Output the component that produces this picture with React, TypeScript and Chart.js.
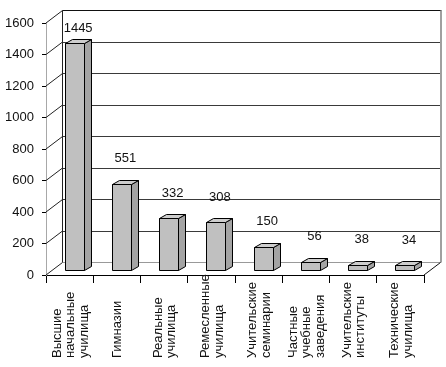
import React, { useEffect, useRef } from 'react';
import { Chart, registerables } from 'chart.js';

Chart.register(...registerables);

const categories: string[][] = [
  ['Высшие', 'начальные', 'училища'],
  ['Гимназии'],
  ['Реальные', 'училища'],
  ['Ремесленные', 'училища'],
  ['Учительские', 'семинарии'],
  ['Частные', 'учебные', 'заведения'],
  ['Учительские', 'институты'],
  ['Технические', 'училища'],
];
const values = [1445, 551, 332, 308, 150, 56, 38, 34];
const yMin = 0;
const yMax = 1600;
const yStep = 200;

const FONT_FAMILY = '"Liberation Sans", Arial, sans-serif';
const DX = 16.5; // wall depth (x)
const DY = -12.5; // wall depth (y)
const FDX = 5; // bar front face offset
const FDY = -3.8;
const SDX = 7; // bar depth
const SDY = -4;

const crisp = (v: number) => Math.round(v - 0.5) + 0.5;

const excel3d = {
  id: 'excel3d',
  beforeDatasetsDraw(chart: any) {
    const { ctx, scales } = chart;
    const x = scales.x;
    const y = scales.y;
    const l = x.left;
    const r = x.right;
    const y0 = y.getPixelForValue(yMin);
    const yT = y.getPixelForValue(yMax);
    const line = (x1: number, y1: number, x2: number, y2: number) => {
      ctx.beginPath();
      ctx.moveTo(x1, y1);
      ctx.lineTo(x2, y2);
      ctx.stroke();
    };
    ctx.save();
    ctx.lineWidth = 1;
    for (let v = yMin; v <= yMax; v += yStep) {
      const py = y.getPixelForValue(v);
      ctx.strokeStyle = '#222';
      line(l, py, l + DX, py + DY);
      if (v > yMin && v < yMax) {
        ctx.strokeStyle = '#3a3a3a';
        const gy = crisp(py + DY);
        line(crisp(l + DX), gy, r + DX, gy);
      }
    }
    ctx.strokeStyle = '#999';
    line(crisp(l + DX), crisp(y0 + DY), r + DX, crisp(y0 + DY));
    ctx.strokeStyle = '#111';
    line(crisp(l + DX), crisp(yT + DY), r + DX + 1, crisp(yT + DY));
    ctx.strokeStyle = '#222';
    line(crisp(l + DX), crisp(yT + DY), crisp(l + DX), crisp(y0 + DY));
    ctx.strokeStyle = '#a0a0a0';
    ctx.lineWidth = 2;
    line(Math.round(r + DX), crisp(yT + DY), Math.round(r + DX), crisp(y0 + DY));
    ctx.lineWidth = 1;
    ctx.strokeStyle = '#111';
    line(r, y0, r + DX, y0 + DY);
    ctx.restore();
  },
  afterDatasetsDraw(chart: any) {
    const { ctx, chartArea } = chart;
    const meta = chart.getDatasetMeta(0);
    ctx.save();
    ctx.lineWidth = 1;
    ctx.strokeStyle = '#000';
    ctx.lineJoin = 'miter';
    meta.data.forEach((bar: any, i: number) => {
      const p = bar.getProps(['x', 'y', 'base', 'width'], true);
      const left = crisp(p.x - p.width / 2 + FDX);
      const right = crisp(p.x + p.width / 2 + FDX);
      const top = crisp(p.y + FDY);
      const bottom = crisp(p.base + FDY);
      ctx.fillStyle = '#c0c0c0';
      ctx.beginPath();
      ctx.rect(left, top, right - left, bottom - top);
      ctx.fill();
      ctx.stroke();
      ctx.fillStyle = '#a4a4a4';
      ctx.beginPath();
      ctx.moveTo(right, top);
      ctx.lineTo(right + SDX, top + SDY);
      ctx.lineTo(right + SDX, bottom + SDY);
      ctx.lineTo(right, bottom);
      ctx.closePath();
      ctx.fill();
      ctx.stroke();
      ctx.fillStyle = '#cdcdcd';
      ctx.beginPath();
      ctx.moveTo(left, top);
      ctx.lineTo(left + SDX, top + SDY);
      ctx.lineTo(right + SDX, top + SDY);
      ctx.lineTo(right, top);
      ctx.closePath();
      ctx.fill();
      ctx.stroke();
      const ly = Math.max(p.y + DY - 17, chartArea.top + 5);
      ctx.fillStyle = '#111';
      ctx.font = '13px ' + FONT_FAMILY;
      ctx.textAlign = 'center';
      ctx.textBaseline = 'middle';
      ctx.fillText(String(values[i]), p.x + FDX + 3.5, ly);
    });
    ctx.restore();
  },
  afterDraw(chart: any) {
    const { ctx, scales } = chart;
    const x = scales.x;
    const startY = x.bottom - 9;
    const lh = 13.5;
    ctx.save();
    ctx.fillStyle = '#111';
    ctx.font = '13px ' + FONT_FAMILY;
    ctx.textAlign = 'left';
    ctx.textBaseline = 'middle';
    categories.forEach((lines, i) => {
      const cx = x.getPixelForValue(i) + 1;
      ctx.save();
      ctx.translate(cx, startY);
      ctx.rotate(-Math.PI / 2);
      lines.forEach((t, j) => {
        ctx.fillText(t, 0, (j - (lines.length - 1) / 2) * lh);
      });
      ctx.restore();
    });
    ctx.restore();
  },
};

export default function App() {
  const ref = useRef<HTMLCanvasElement | null>(null);
  useEffect(() => {
    document.body.style.margin = '0';
    const canvas = ref.current;
    if (!canvas) return;
    const chart = new Chart(canvas, {
      type: 'bar',
      data: {
        labels: categories.map((c) => c.join(' ')),
        datasets: [
          {
            data: values,
            backgroundColor: 'rgba(0,0,0,0)',
            borderWidth: 0,
            barPercentage: 0.4,
            categoryPercentage: 1,
          },
        ],
      },
      options: {
        responsive: false,
        animation: false,
        devicePixelRatio: 1,
        layout: { padding: { top: 23, right: 22, left: 0, bottom: 0 } },
        plugins: { legend: { display: false }, tooltip: { enabled: false } },
        scales: {
          x: {
            offset: true,
            grid: {
              display: true,
              drawOnChartArea: false,
              drawTicks: true,
              tickLength: 8,
              color: '#000',
              offset: true,
            },
            border: { display: true, color: '#000' },
            ticks: { display: false },
            afterFit: (s: any) => {
              s.height = 92;
            },
          },
          y: {
            min: yMin,
            max: yMax,
            grid: {
              display: true,
              drawOnChartArea: false,
              drawTicks: true,
              tickLength: 4,
              color: '#000',
            },
            border: { display: true, color: '#a8a8a8' },
            ticks: {
              stepSize: yStep,
              padding: 8,
              color: '#111',
              font: { family: FONT_FAMILY, size: 13 },
              callback: (v: any) => String(v),
            },
            afterFit: (s: any) => {
              s.width = 46;
            },
          },
        },
      },
      plugins: [excel3d],
    });
    return () => chart.destroy();
  }, []);
  return (
    <div style={{ width: 446, height: 367, background: '#fff' }}>
      <canvas ref={ref} width={446} height={367} style={{ display: 'block' }} />
    </div>
  );
}
